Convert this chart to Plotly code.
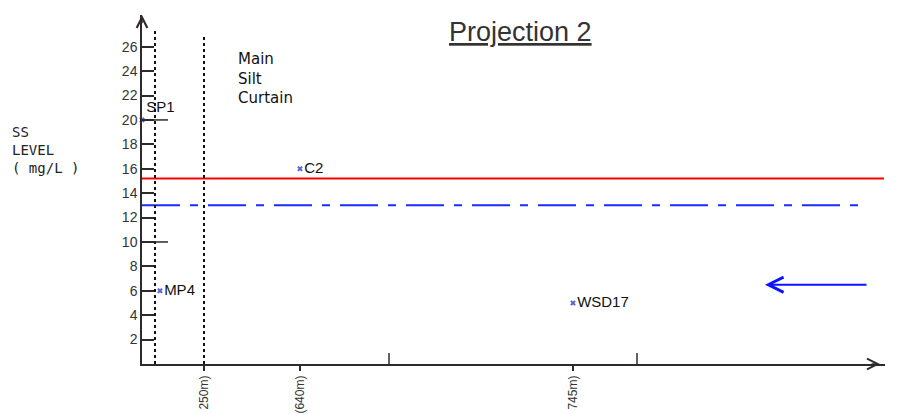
import plotly.graph_objects as go

# ---- data ----
stations = ["SP1", "MP4", "C2", "WSD17"]
station_pos = [0, 18, 158, 431]          # position along the distance axis (chart units)
ss_values = [20, 6, 16, 5]               # SS level (mg/L)
label_positions = ["top right", "middle right", "middle right", "middle right"]

action_level = 15.2                     # red line
limit_level = 13.0                      # blue dash-dot line

y_ticks = list(range(2, 27, 2))
x_tick_pos = [62, 158, 431]
x_tick_text = ["250m)", "(640m)", "745m)"]
minor_up_ticks = [247, 495]
long_ticks = [10, 20]

X_MAX = 743
Y_MAX = 28.6
AXIS_COLOR = "#2e2a2c"

fig = go.Figure()

# threshold lines
fig.add_trace(go.Scatter(x=[0, 742], y=[action_level, action_level], mode="lines",
                         line=dict(color="#ff0000", width=2), hoverinfo="skip", showlegend=False))
fig.add_trace(go.Scatter(x=[0, 716], y=[limit_level, limit_level], mode="lines",
                         line=dict(color="#1a2cff", width=2, dash="38px,10px,8px,10px"),
                         hoverinfo="skip", showlegend=False))

# stations
fig.add_trace(go.Scatter(x=station_pos, y=ss_values, mode="markers+text",
                         text=stations, textposition=label_positions,
                         textfont=dict(family="Liberation Sans", size=15, color="#111"),
                         marker=dict(symbol="x", size=5, color="#5a66d6"),
                         cliponaxis=False, showlegend=False))

shapes = []
# dotted vertical lines
shapes.append(dict(type="line", xref="x", yref="y", x0=13, x1=13, y0=0, y1=27.3,
                   line=dict(color="#111", width=2, dash="dot")))
shapes.append(dict(type="line", xref="x", yref="y", x0=62, x1=62, y0=0, y1=26.9,
                   line=dict(color="#111", width=2, dash="dot")))
# longer ticks at 10 and 20
for v in long_ticks:
    shapes.append(dict(type="line", xref="x", yref="y", x0=0, x1=26, y0=v, y1=v,
                       line=dict(color=AXIS_COLOR, width=1.5)))
# upward ticks on distance axis
for p in minor_up_ticks:
    shapes.append(dict(type="line", xref="x", yref="y", x0=p, x1=p, y0=0, y1=0.9,
                       line=dict(color=AXIS_COLOR, width=1.5)))

annotations = [
    # axis arrow heads
    dict(x=0, y=Y_MAX, ax=0, ay=27.8, xref="x", yref="y", axref="x", ayref="y",
         showarrow=True, arrowhead=5, arrowsize=1.4, arrowwidth=1.5, arrowcolor=AXIS_COLOR, text=""),
    dict(x=738, y=0, ax=728, ay=0, xref="x", yref="y", axref="x", ayref="y",
         showarrow=True, arrowhead=5, arrowsize=1.4, arrowwidth=1.5, arrowcolor=AXIS_COLOR, text=""),
    # blue direction arrow
    dict(x=623, y=6.5, ax=726, ay=6.5, xref="x", yref="y", axref="x", ayref="y",
         showarrow=True, arrowhead=5, arrowsize=1.5, arrowwidth=2, arrowcolor="#0a14ff", text=""),
    # title
    dict(x=378, y=27.2, xref="x", yref="y", text="<u>Projection 2</u>", showarrow=False,
         font=dict(family="Liberation Sans", size=27, color="#333")),
    # y label
    dict(x=(10 - 142) / 743, y=17.5, xref="paper", yref="y", xanchor="left",
         text="SS<br>LEVEL<br>( mg/L )", align="left", showarrow=False,
         font=dict(family="DejaVu Sans Mono", size=14, color="#222")),
    # x label
    dict(x=689, y=-2.4, xref="x", yref="y", text="DISTANCE", showarrow=False,
         font=dict(family="DejaVu Sans Mono", size=16, color="#222")),
    # silt curtain label
    dict(x=94, y=25.9, xref="x", yref="y", xanchor="left", yanchor="top", align="left",
         text="Main<br>Silt<br>Curtain", showarrow=False,
         font=dict(family="DejaVu Sans", size=15, color="#111")),
]

fig.update_layout(
    width=891, height=406,
    margin=dict(l=134, r=14, t=7, b=50),
    paper_bgcolor="white", plot_bgcolor="white",
    shapes=shapes, annotations=annotations,
    xaxis=dict(range=[0, X_MAX], showgrid=False, zeroline=False, showline=True,
               automargin=False,
               linecolor=AXIS_COLOR, linewidth=1.5, ticks="outside", ticklen=5,
               tickcolor=AXIS_COLOR, tickwidth=1.5,
               tickvals=x_tick_pos, ticktext=x_tick_text, tickangle=-90,
               tickfont=dict(family="Liberation Sans", size=12, color="#333")),
    yaxis=dict(range=[0, Y_MAX], showgrid=False, zeroline=False, showline=True,
               automargin=False,
               linecolor=AXIS_COLOR, linewidth=1.5, ticks="inside", ticklen=12,
               tickcolor=AXIS_COLOR, tickwidth=1.5, tickvals=y_ticks,
               tickfont=dict(family="Liberation Sans", size=14, color="#333")),
)

fig.write_html("out.html")
